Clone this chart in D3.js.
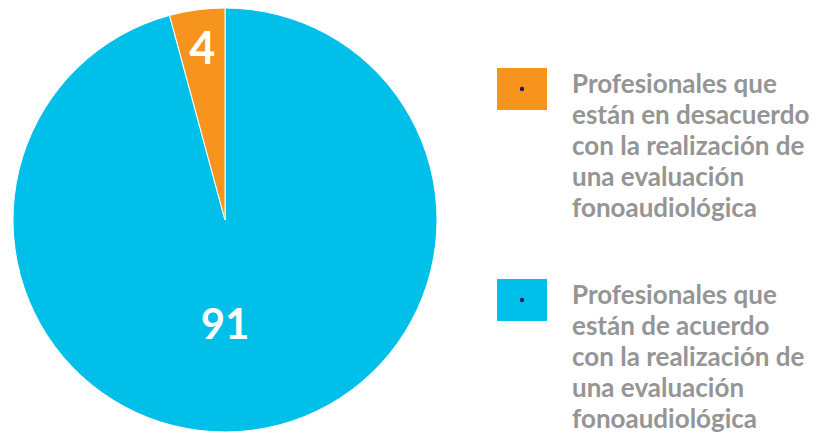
<!DOCTYPE html>
<html>
<head>
<meta charset="utf-8">
<script src="https://cdn.jsdelivr.net/npm/d3@7"></script>
<style>
  body { margin: 0; background: #fff; }
  svg { display: block; }
</style>
</head>
<body>
<div id="chart"></div>
<script>
const categories = [
  "Profesionales que están de acuerdo con la realización de una evaluación fonoaudiológica",
  "Profesionales que están en desacuerdo con la realización de una evaluación fonoaudiológica"
];
const values = [91, 4];
const colors = ["#00c0ea", "#f7941d"];
const legendLines = [
  ["Profesionales que", "están en desacuerdo", "con la realización de", "una evaluación", "fonoaudiológica"],
  ["Profesionales que", "están de acuerdo", "con la realización de", "una evaluación", "fonoaudiológica"]
];
const legendOrder = [1, 0];

const width = 838, height = 440;
const cx = 225, cy = 220, radius = 212;

const svg = d3.select("#chart").append("svg")
    .attr("width", width)
    .attr("height", height);

const pie = d3.pie().sort(null).value(d => d);
const arcs = pie(values);

const arc = d3.arc().innerRadius(0).outerRadius(radius);

const g = svg.append("g").attr("transform", `translate(${cx},${cy})`);

g.selectAll("path")
    .data(arcs)
    .join("path")
    .attr("d", arc)
    .attr("fill", (d, i) => colors[i])
    .attr("stroke", "#fff")
    .attr("stroke-width", 1);

// labels: small slices sit near the rim, the big one straight below the centre
g.selectAll("text")
    .data(arcs)
    .join("text")
    .attr("transform", d => {
      const frac = (d.endAngle - d.startAngle) / (2 * Math.PI);
      let c;
      if (frac < 0.1) {
        const r = radius * 0.816;
        c = d3.arc().innerRadius(r).outerRadius(r).centroid(d);
      } else {
        c = d3.pointRadial(Math.PI, radius * 0.49);
      }
      return `translate(${c[0]},${c[1]})`;
    })
    .attr("text-anchor", "middle")
    .attr("dy", "0.35em")
    .attr("fill", "#fff")
    .attr("font-family", "Lato, sans-serif")
    .attr("font-weight", 700)
    .attr("font-size", d => (d.value < 10 ? 45 : 42))
    .text(d => d.value);

const legend = svg.append("g")
    .selectAll("g")
    .data(legendOrder)
    .join("g")
    .attr("transform", (d, i) => `translate(497,${68 + i * 211})`);

legend.append("rect")
    .attr("width", 50)
    .attr("height", 42)
    .attr("fill", d => colors[d]);

legend.append("circle")
    .attr("cx", 25)
    .attr("cy", 21)
    .attr("r", 2.2)
    .attr("fill", "#1b1b5e");

legend.append("text")
    .attr("font-family", "Lato, sans-serif")
    .attr("font-weight", 700)
    .attr("font-size", 26)
    .attr("fill", "#959595")
    .selectAll("tspan")
    .data((d, i) => legendLines[i])
    .join("tspan")
    .attr("x", 75)
    .attr("y", (d, i) => 25 + i * 31)
    .text(d => d);

legend.append("title").text(d => categories[d]);
</script>
</body>
</html>
